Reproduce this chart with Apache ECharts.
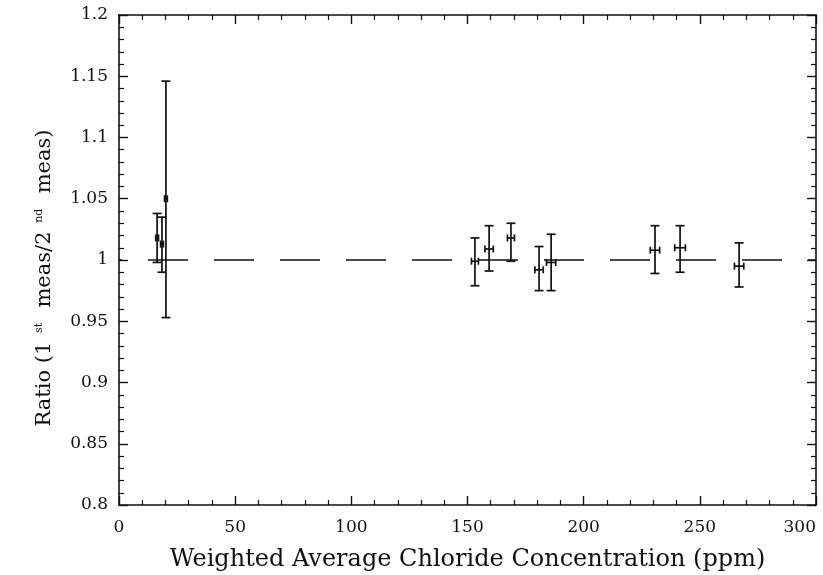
<!DOCTYPE html>
<html>
<head>
<meta charset="utf-8">
<script src="https://cdn.jsdelivr.net/npm/echarts@6/dist/echarts.min.js"></script>
<style>
  html, body { margin: 0; padding: 0; background: #fff; }
  #chart { width: 823px; height: 575px; }
</style>
</head>
<body>
<div id="chart"></div>
<script>
// measured points (ppm, ratio) with asymmetric vertical error and x half-width
const xVals = [16.4, 18.5, 20.2, 153.2, 159.3, 168.7, 180.8, 186.0, 230.7, 241.5, 266.9];
const yVals = [1.018, 1.013, 1.050, 0.999, 1.009, 1.018, 0.992, 0.998, 1.008, 1.010, 0.995];
const yLow = [0.998, 0.990, 0.953, 0.979, 0.991, 0.999, 0.975, 0.975, 0.989, 0.990, 0.978];
const yHigh = [1.038, 1.035, 1.146, 1.018, 1.028, 1.030, 1.011, 1.021, 1.028, 1.028, 1.014];
const xErr = [0.6, 0.6, 0.6, 1.5, 1.8, 1.5, 1.8, 2.0, 2.0, 2.3, 2.0];

// reference line at ratio = 1
const refX = [0, 300];
const refY = [1, 1];

const xTicks = ['0', '50', '100', '150', '200', '250', '300'];
const yTicks = ['0.8', '0.85', '0.9', '0.95', '1', '1.05', '1.1', '1.15', '1.2'];

const serif = 'DejaVu Serif';
const ink = '#111';

const chart = echarts.init(document.getElementById('chart'));

function seg(a, b) {
  return {
    type: 'line',
    shape: { x1: a[0], y1: a[1], x2: b[0], y2: b[1] },
    style: { stroke: ink, lineWidth: 1.7 }
  };
}

function renderErrBar(params, api) {
  const x = api.value(0), y = api.value(1);
  const lo = api.value(2), hi = api.value(3), xe = api.value(4);
  const top = api.coord([x, hi]);
  const bot = api.coord([x, lo]);
  const left = api.coord([x - xe, y]);
  const right = api.coord([x + xe, y]);
  const cw = 4.5, ch = 3.5;
  return {
    type: 'group',
    children: [
      seg(top, bot),
      seg([top[0] - cw, top[1]], [top[0] + cw, top[1]]),
      seg([bot[0] - cw, bot[1]], [bot[0] + cw, bot[1]]),
      seg(left, right),
      seg([left[0], left[1] - ch], [left[0], left[1] + ch]),
      seg([right[0], right[1] - ch], [right[0], right[1] + ch])
    ]
  };
}

const tickStyle = { show: true, inside: true, length: 9, lineStyle: { color: ink, width: 1.4 } };
const minorStyle = { show: true, splitNumber: 5, length: 5, lineStyle: { color: ink, width: 1.2 } };
const lineStyle = { show: true, onZero: false, lineStyle: { color: ink, width: 1.6 } };

const option = {
  animation: false,
  backgroundColor: '#fff',
  grid: { left: 119, right: 7, top: 15, bottom: 70, outerBoundsMode: 'none' },
  xAxis: [
    {
      type: 'value', min: 0, max: 300, interval: 50, position: 'bottom',
      axisLine: lineStyle, axisTick: tickStyle, minorTick: minorStyle,
      splitLine: { show: false },
      axisLabel: {
        fontFamily: serif, fontSize: 17, color: ink, margin: 14,
        alignMaxLabel: 'right',
        formatter: (v) => xTicks[Math.round(v / 50)]
      },
      name: 'Weighted Average Chloride Concentration (ppm)',
      nameLocation: 'middle', nameGap: 43,
      nameTextStyle: { fontFamily: serif, fontSize: 24, color: ink }
    },
    {
      type: 'value', min: 0, max: 300, interval: 50, position: 'top',
      axisLine: lineStyle, axisTick: tickStyle, minorTick: minorStyle,
      splitLine: { show: false }, axisLabel: { show: false }
    }
  ],
  yAxis: [
    {
      type: 'value', min: 0.8, max: 1.2, interval: 0.05, position: 'left',
      axisLine: lineStyle, axisTick: tickStyle, minorTick: minorStyle,
      splitLine: { show: false },
      axisLabel: {
        fontFamily: serif, fontSize: 17, color: ink, margin: 11,
        formatter: (v) => yTicks[Math.round((v - 0.8) / 0.05)]
      },
      name: '{a|Ratio (1 }{s|st}{a|  meas/2 }{s|nd}{a|  meas)}',
      nameLocation: 'middle', nameGap: 64,
      nameTextStyle: {
        color: ink,
        padding: [0, 36, 0, 0],
        rich: {
          a: { fontFamily: serif, fontSize: 21, color: ink },
          s: { fontFamily: serif, fontSize: 11, color: ink, verticalAlign: 'top', padding: [0, 2, 0, 2] }
        }
      }
    },
    {
      type: 'value', min: 0.8, max: 1.2, interval: 0.05, position: 'right',
      axisLine: lineStyle, axisTick: tickStyle, minorTick: minorStyle,
      splitLine: { show: false }, axisLabel: { show: false }
    }
  ],
  series: [
    {
      type: 'line',
      data: refX.map((x, i) => [x, refY[i]]),
      symbol: 'none',
      lineStyle: { color: ink, width: 1.6, type: [40, 26], dashOffset: 37 },
      silent: true
    },
    {
      type: 'custom',
      renderItem: renderErrBar,
      encode: { x: 0, y: 1 },
      data: xVals.map((x, i) => [x, yVals[i], yLow[i], yHigh[i], xErr[i]]),
      z: 3
    }
  ]
};

chart.setOption(option);
</script>
</body>
</html>
